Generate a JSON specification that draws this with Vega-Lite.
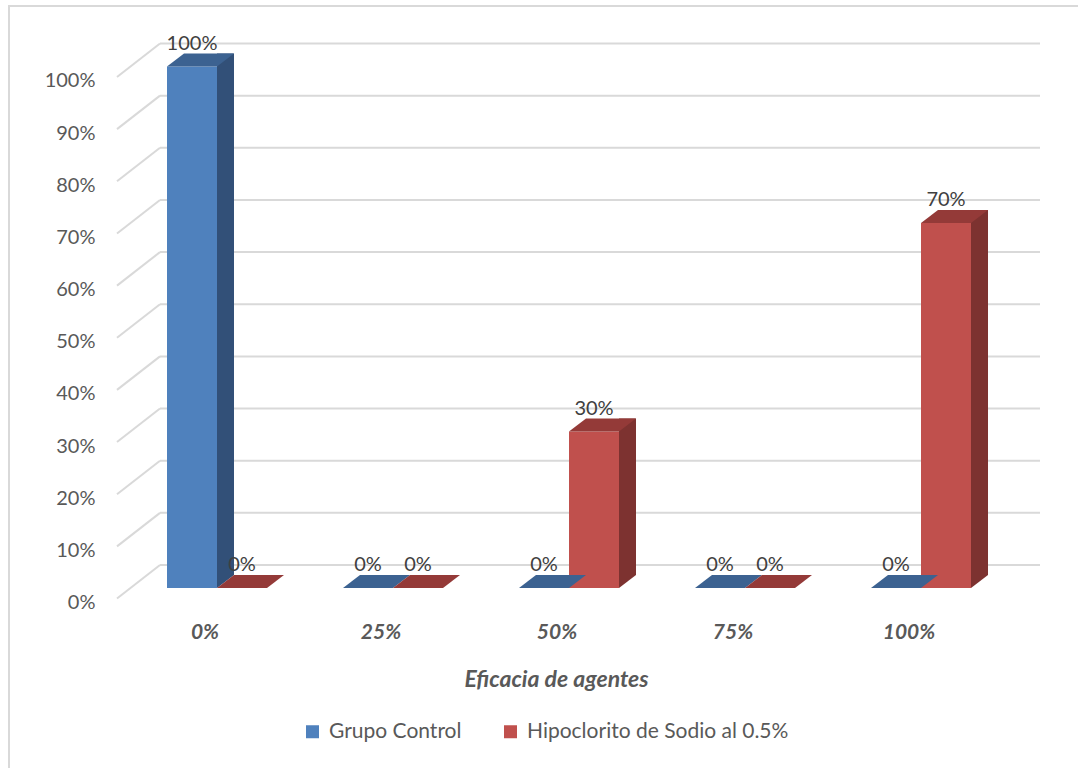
{
  "$schema": "https://vega.github.io/schema/vega-lite/v6.json",
  "width": 1071,
  "height": 764,
  "autosize": {"type": "none"},
  "padding": {"left": 9, "top": 6, "right": -2, "bottom": -2},
  "background": "white",
  "config": {
    "font": "Lato",
    "view": {"stroke": "#d9d9d9", "strokeWidth": 2},
    "axisX": {
      "offset": -205, "labelOffset": -43, "labelPadding": 73,
      "labelBaseline": "alphabetic", "labelFontSize": 21, "labelFontStyle": "italic", "labelFontWeight": "bold",
      "labelColor": "#595959", "labelAngle": 0, "domain": false, "ticks": false, "grid": false, "zindex": 2
    },
    "axisY": {
      "offset": -151, "labelOffset": 43.5, "labelBaseline": "alphabetic", "labelPadding": 65,
      "labelFontSize": 20, "labelColor": "#595959", "domain": false, "ticks": false, "grid": false, "zindex": 2
    }
  },
  "datasets": {
    "bars": [
      {"cat": "0%", "series": "Grupo Control", "value": 1.0},
      {"cat": "0%", "series": "Hipoclorito de Sodio al 0.5%", "value": 0.0},
      {"cat": "25%", "series": "Grupo Control", "value": 0.0},
      {"cat": "25%", "series": "Hipoclorito de Sodio al 0.5%", "value": 0.0},
      {"cat": "50%", "series": "Grupo Control", "value": 0.0},
      {"cat": "50%", "series": "Hipoclorito de Sodio al 0.5%", "value": 0.3},
      {"cat": "75%", "series": "Grupo Control", "value": 0.0},
      {"cat": "75%", "series": "Hipoclorito de Sodio al 0.5%", "value": 0.0},
      {"cat": "100%", "series": "Grupo Control", "value": 0.0},
      {"cat": "100%", "series": "Hipoclorito de Sodio al 0.5%", "value": 0.7}
    ],
    "grid": [
      {"v": 0}, {"v": 0.1}, {"v": 0.2}, {"v": 0.3}, {"v": 0.4}, {"v": 0.5},
      {"v": 0.6}, {"v": 0.7}, {"v": 0.8}, {"v": 0.9}, {"v": 1.0}
    ]
  },
  "layer": [
    {
      "data": {"name": "grid"},
      "mark": {"type": "rule", "color": "#d9d9d9", "strokeWidth": 2, "xOffset": -88, "x2Offset": 88},
      "encoding": {
        "x": {"datum": "0%", "type": "nominal", "scale": {"type": "band", "domain": ["0%", "25%", "50%", "75%", "100%"], "paddingInner": 0, "paddingOuter": 0.5426, "align": 0.7906}},
        "x2": {"datum": "100%"},
        "y": {"field": "v", "type": "quantitative", "scale": {"domain": [-0.3931, 1.0719], "nice": false, "zero": false}}
      }
    },
    {
      "data": {"name": "grid"},
      "mark": {"type": "rule", "color": "#d9d9d9", "strokeWidth": 2, "xOffset": -131, "x2Offset": -88, "yOffset": 33.5, "y2Offset": 0},
      "encoding": {
        "x": {"datum": "0%", "type": "nominal", "scale": {"type": "band", "domain": ["0%", "25%", "50%", "75%", "100%"], "paddingInner": 0, "paddingOuter": 0.5426, "align": 0.7906}},
        "x2": {"datum": "0%"},
        "y": {"field": "v", "type": "quantitative", "scale": {"domain": [-0.3931, 1.0719], "nice": false, "zero": false}},
        "y2": {"field": "v"}
      }
    },
    {
      "data": {"name": "bars"},
      "transform": [{"filter": "datum.series == 'Grupo Control' && datum.value > 0"}],
      "mark": {"type": "bar", "width": 17, "xOffset": -22.5, "yOffset": 10, "y2Offset": 10, "color": "#325078"},
      "encoding": {
        "x": {"field": "cat", "type": "nominal", "scale": {"type": "band", "domain": ["0%", "25%", "50%", "75%", "100%"], "paddingInner": 0, "paddingOuter": 0.5426, "align": 0.7906}},
        "y": {"field": "value", "type": "quantitative", "scale": {"domain": [-0.3931, 1.0719], "nice": false, "zero": false}},
        "y2": {"datum": 0}
      }
    },
    {
      "data": {"name": "bars"},
      "transform": [{"filter": "datum.series != 'Grupo Control' && datum.value > 0"}],
      "mark": {"type": "bar", "width": 17, "xOffset": 27.5, "yOffset": 10, "y2Offset": 10, "color": "#7d3230"},
      "encoding": {
        "x": {"field": "cat", "type": "nominal", "scale": {"type": "band", "domain": ["0%", "25%", "50%", "75%", "100%"], "paddingInner": 0, "paddingOuter": 0.5426, "align": 0.7906}},
        "y": {"field": "value", "type": "quantitative", "scale": {"domain": [-0.3931, 1.0719], "nice": false, "zero": false}},
        "y2": {"datum": 0}
      }
    },
    {
      "data": {"name": "bars"},
      "transform": [{"filter": "datum.value > 0"}],
      "mark": {"type": "point", "shape": "M25,0 L25,-13 L42,-13 Z", "size": 4, "filled": true, "opacity": 1, "strokeWidth": 0, "yOffset": 23},
      "encoding": {
        "x": {"field": "cat", "type": "nominal", "scale": {"type": "band", "domain": ["0%", "25%", "50%", "75%", "100%"], "paddingInner": 0, "paddingOuter": 0.5426, "align": 0.7906}},
        "xOffset": {"field": "series", "type": "nominal", "scale": {"type": "band", "domain": ["Grupo Control", "Hipoclorito de Sodio al 0.5%"], "paddingInner": 0, "paddingOuter": 0.76, "align": 0.0921}},
        "y": {"datum": 0, "type": "quantitative", "scale": {"domain": [-0.3931, 1.0719], "nice": false, "zero": false}},
        "color": {"condition": {"test": "datum.series == 'Grupo Control'", "value": "#325078"}, "value": "#7d3230"}
      }
    },
    {
      "data": {"name": "bars"},
      "mark": {"type": "bar", "yOffset": 23, "y2Offset": 23},
      "encoding": {
        "x": {
          "field": "cat", "type": "nominal",
          "scale": {"type": "band", "domain": ["0%", "25%", "50%", "75%", "100%"], "paddingInner": 0, "paddingOuter": 0.5426, "align": 0.7906},
          "axis": {
            "title": "Eficacia de agentes",
            "titleFontSize": 23, "titleFontStyle": "italic", "titleFontWeight": "bold", "titleColor": "#595959",
            "titleX": 547, "titleY": 121, "titleBaseline": "alphabetic", "titleAlign": "center"
          }
        },
        "xOffset": {"field": "series", "type": "nominal", "scale": {"type": "band", "domain": ["Grupo Control", "Hipoclorito de Sodio al 0.5%"], "paddingInner": 0, "paddingOuter": 0.76, "align": 0.0921}},
        "y": {
          "field": "value", "type": "quantitative",
          "scale": {"domain": [-0.3931, 1.0719], "nice": false, "zero": false},
          "axis": {"title": null, "values": [0, 0.1, 0.2, 0.3, 0.4, 0.5, 0.6, 0.7, 0.8, 0.9, 1.0], "format": ".0%"}
        },
        "y2": {"datum": 0},
        "color": {
          "field": "series", "type": "nominal",
          "scale": {"domain": ["Grupo Control", "Hipoclorito de Sodio al 0.5%"], "range": ["#4f81bd", "#c0504d"]},
          "legend": {
            "title": null, "orient": "none", "legendX": 293, "legendY": 715, "direction": "horizontal",
            "symbolType": "square", "symbolSize": 169, "symbolStrokeWidth": 0, "labelFontSize": 21,
            "labelColor": "#595959", "labelOffset": 6, "columnPadding": 38, "padding": 0, "labelLimit": 0
          }
        }
      }
    },
    {
      "data": {"name": "bars"},
      "mark": {"type": "point", "shape": "M-25,0 L25,0 L42,-13 L-8,-13 Z", "size": 4, "filled": true, "opacity": 1, "strokeWidth": 0, "yOffset": 23},
      "encoding": {
        "x": {"field": "cat", "type": "nominal", "scale": {"type": "band", "domain": ["0%", "25%", "50%", "75%", "100%"], "paddingInner": 0, "paddingOuter": 0.5426, "align": 0.7906}},
        "xOffset": {"field": "series", "type": "nominal", "scale": {"type": "band", "domain": ["Grupo Control", "Hipoclorito de Sodio al 0.5%"], "paddingInner": 0, "paddingOuter": 0.76, "align": 0.0921}},
        "y": {"field": "value", "type": "quantitative", "scale": {"domain": [-0.3931, 1.0719], "nice": false, "zero": false}},
        "color": {"condition": {"test": "datum.series == 'Grupo Control'", "value": "#3c6291"}, "value": "#943a38"}
      }
    },
    {
      "data": {"name": "bars"},
      "mark": {"type": "text", "baseline": "alphabetic", "align": "center", "yOffset": 6.5, "fontSize": 20, "color": "#404040"},
      "encoding": {
        "x": {"field": "cat", "type": "nominal", "scale": {"type": "band", "domain": ["0%", "25%", "50%", "75%", "100%"], "paddingInner": 0, "paddingOuter": 0.5426, "align": 0.7906}},
        "xOffset": {"field": "series", "type": "nominal", "scale": {"type": "band", "domain": ["Grupo Control", "Hipoclorito de Sodio al 0.5%"], "paddingInner": 0, "paddingOuter": 0.76, "align": 0.0921}},
        "y": {"field": "value", "type": "quantitative", "scale": {"domain": [-0.3931, 1.0719], "nice": false, "zero": false}},
        "text": {"field": "value", "type": "quantitative", "format": ".0%"}
      }
    }
  ]
}
